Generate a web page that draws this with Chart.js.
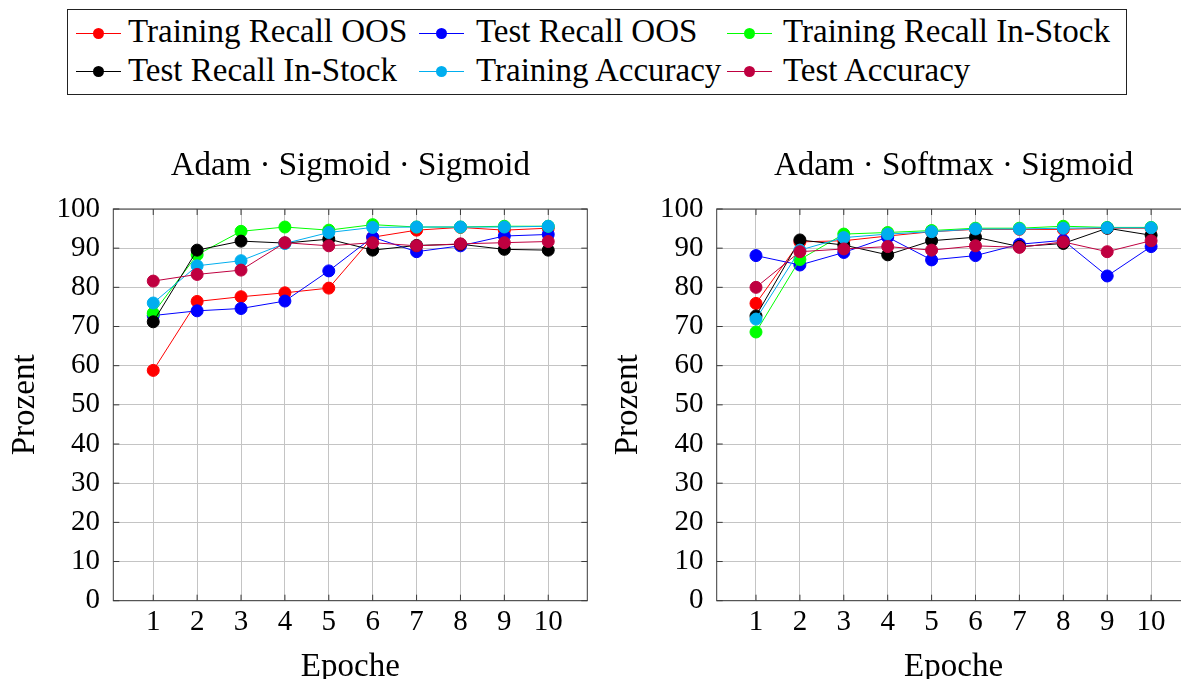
<!DOCTYPE html>
<html><head><meta charset="utf-8">
<script src="https://cdn.jsdelivr.net/npm/chart.js@4/dist/chart.umd.min.js"></script>
<style>
html,body{margin:0;padding:0;background:#fff;}
#wrap{position:relative;width:1181px;height:679px;overflow:hidden;background:#fff;}
canvas{position:absolute;}
#legend{position:absolute;left:67px;top:9px;width:1060px;height:86px;border:1px solid #222;box-sizing:border-box;}
.lline{position:absolute;height:1px;}
.ldot{position:absolute;border-radius:50%;}
.ltext{position:absolute;font-family:"Liberation Serif","Times New Roman",Times,"DejaVu Serif",serif;font-size:33px;line-height:33px;white-space:nowrap;color:#000;}
</style>
</head><body>
<div id="wrap">
  <div id="legend"></div>
  <canvas id="c1" width="600" height="560" style="left:0px;top:130px;width:600px;height:560px;"></canvas>
  <canvas id="c2" width="600" height="560" style="left:600px;top:130px;width:600px;height:560px;"></canvas>
</div>
<script>
// ---- data ----
const epochs = [1, 2, 3, 4, 5, 6, 7, 8, 9, 10];
const yTicks = [0, 10, 20, 30, 40, 50, 60, 70, 80, 90, 100];
const seriesNames = ['Training Recall OOS', 'Test Recall OOS', 'Training Recall In-Stock',
                     'Test Recall In-Stock', 'Training Accuracy', 'Test Accuracy'];
const seriesColors = ['#ff0000', '#0000ff', '#00ff00', '#000000', '#00aeef', '#bf0040'];
const titleLeft = 'Adam · Sigmoid · Sigmoid';
const titleRight = 'Adam · Softmax · Sigmoid';

// Adam · Sigmoid · Sigmoid
const trainRecallOOS_A = [58.8, 76.4, 77.6, 78.6, 79.8, 92.8, 94.6, 95.3, 94.6, 95.1];
const testRecallOOS_A  = [72.8, 74.0, 74.6, 76.5, 84.2, 92.8, 89.1, 90.6, 93.1, 93.5];
const trainRecallIn_A  = [73.4, 88.3, 94.3, 95.4, 94.6, 96.0, 95.4, 95.4, 95.6, 95.6];
const testRecallIn_A   = [71.2, 89.5, 91.8, 91.3, 92.3, 89.5, 90.7, 91.0, 89.7, 89.5];
const trainAcc_A       = [76.0, 85.5, 86.8, 91.2, 94.0, 95.3, 95.4, 95.4, 95.4, 95.6];
const testAcc_A        = [81.6, 83.3, 84.4, 91.4, 90.6, 91.4, 90.6, 91.1, 91.4, 91.7];

// Adam · Softmax · Sigmoid
const trainRecallOOS_B = [75.9, 91.6, 91.9, 93.1, 94.2, 94.8, 94.8, 94.8, 95.1, 95.1];
const testRecallOOS_B  = [88.1, 85.7, 88.9, 92.8, 87.0, 88.1, 91.0, 92.0, 82.9, 90.4];
const trainRecallIn_B  = [68.6, 87.1, 93.6, 94.0, 94.5, 95.1, 95.1, 95.6, 95.3, 95.3];
const testRecallIn_B   = [72.7, 92.1, 90.8, 88.3, 91.9, 92.8, 90.4, 91.2, 95.1, 93.3];
const trainAcc_B       = [71.9, 89.5, 92.7, 93.6, 94.2, 94.9, 94.9, 95.1, 95.2, 95.2];
const testAcc_B        = [80.0, 89.1, 89.8, 90.4, 89.5, 90.6, 90.2, 91.6, 89.1, 91.9];

const seriesA = [trainRecallOOS_A, testRecallOOS_A, trainRecallIn_A, testRecallIn_A, trainAcc_A, testAcc_A];
const seriesB = [trainRecallOOS_B, testRecallOOS_B, trainRecallIn_B, testRecallIn_B, trainAcc_B, testAcc_B];

// ---- legend (HTML) ----
(function buildLegend(){
  const wrap = document.getElementById('wrap');
  const lineStarts = [76, 419, 727];
  const textStarts = [128, 476, 783];
  const rowCenters = [33.3, 71];
  const textTops = [15.2, 53.5];
  seriesNames.forEach((name, i) => {
    const col = i % 3, row = Math.floor(i / 3);
    const c = seriesColors[i];
    const ln = document.createElement('div');
    ln.className = 'lline';
    ln.style.cssText = `left:${lineStarts[col]}px;top:${rowCenters[row]-0.5}px;width:45px;background:${c};`;
    wrap.appendChild(ln);
    const d = document.createElement('div');
    d.className = 'ldot';
    const r = 5.5;
    d.style.cssText = `left:${lineStarts[col]+22.5-r}px;top:${rowCenters[row]-r}px;width:${2*r}px;height:${2*r}px;background:${c};`;
    wrap.appendChild(d);
    const t = document.createElement('div');
    t.className = 'ltext';
    t.textContent = name;
    t.style.left = textStarts[col] + 'px';
    t.style.top = textTops[row] + 'px';
    wrap.appendChild(t);
  });
})();

// ---- charts ----
Chart.defaults.font.family = '"Liberation Serif", "Times New Roman", Times, "DejaVu Serif", serif';
Chart.defaults.color = '#000';

const framePlugin = {
  id: 'frame',
  afterDatasetsDraw(chart) {
    const {ctx, chartArea: a, scales} = chart;
    ctx.save();
    ctx.strokeStyle = '#3a3a3a';
    ctx.lineWidth = 1;
    ctx.strokeRect(a.left, a.top, a.right - a.left, a.bottom - a.top);
    ctx.beginPath();
    const tl = 6;
    scales.y.ticks.forEach(t => {
      const py = scales.y.getPixelForValue(t.value);
      ctx.moveTo(a.left, py); ctx.lineTo(a.left + tl, py);
      ctx.moveTo(a.right, py); ctx.lineTo(a.right - tl, py);
    });
    scales.x.ticks.forEach(t => {
      const px = scales.x.getPixelForValue(t.value);
      ctx.moveTo(px, a.bottom); ctx.lineTo(px, a.bottom - tl);
      ctx.moveTo(px, a.top); ctx.lineTo(px, a.top + tl);
    });
    ctx.stroke();
    ctx.restore();
  }
};

function makeChart(id, title, series, cfg) {
  const datasets = series.map((vals, i) => ({
    label: seriesNames[i],
    data: epochs.map((e, j) => ({x: e, y: vals[j]})),
    borderColor: seriesColors[i],
    backgroundColor: seriesColors[i],
    pointBackgroundColor: seriesColors[i],
    pointBorderColor: seriesColors[i],
    borderWidth: 1,
    pointRadius: 6,
    pointBorderWidth: 1,
    tension: 0,
    clip: false,
    order: -i
  }));
  const gridStyle = {color: '#c4c4c4', lineWidth: 1, drawTicks: false};
  return new Chart(document.getElementById(id), {
    type: 'line',
    data: {datasets},
    options: {
      responsive: false,
      animation: false,
      devicePixelRatio: 1,
      layout: {padding: {left: 0, right: cfg.padRight, top: 0, bottom: 0}},
      plugins: {
        legend: {display: false},
        tooltip: {enabled: false},
        title: {
          display: true, text: title, fullSize: false,
          font: {size: 33, weight: 'normal'}, color: '#000',
          padding: {top: 16.4, bottom: 23.0}
        }
      },
      scales: {
        x: {
          type: 'linear', min: cfg.xMin, max: cfg.xMax,
          afterBuildTicks: s => { s.ticks = epochs.map(v => ({value: v})); },
          ticks: {font: {size: 29}, color: '#000', padding: 4, autoSkip: false, maxRotation: 0,
                  callback: v => String(v)},
          grid: gridStyle,
          border: {display: false},
          title: {display: true, text: 'Epoche', font: {size: 33}, color: '#000', padding: {top: 0, bottom: 2.5}},
          afterFit: s => { s.height = 89.3; }
        },
        y: {
          min: 0, max: 100,
          afterBuildTicks: s => { s.ticks = yTicks.map(v => ({value: v})); },
          ticks: {font: {size: 29}, color: '#000', padding: 13.3, callback: v => String(v)},
          grid: gridStyle,
          border: {display: false},
          title: {display: true, text: 'Prozent', font: {size: 33}, color: '#000', padding: {top: cfg.yTitlePad, bottom: 0}},
          afterFit: s => { s.width = cfg.yWidth; }
        }
      }
    },
    plugins: [framePlugin]
  });
}

function drawAll() {
  makeChart('c1', titleLeft, seriesA, {xMin: 0.09, xMax: 10.89, padRight: 12.7, yWidth: 113.3, yTitlePad: 5.9});
  makeChart('c2', titleRight, seriesB, {xMin: 0.105, xMax: 10.895, padRight: 9.6, yWidth: 116.7, yTitlePad: 8.9});
}
if (document.fonts && document.fonts.load) {
  Promise.all([
    document.fonts.load('33px "Liberation Serif"'),
    document.fonts.load('29px "Liberation Serif"')
  ]).then(drawAll, drawAll);
} else {
  drawAll();
}
</script>
</body></html>
